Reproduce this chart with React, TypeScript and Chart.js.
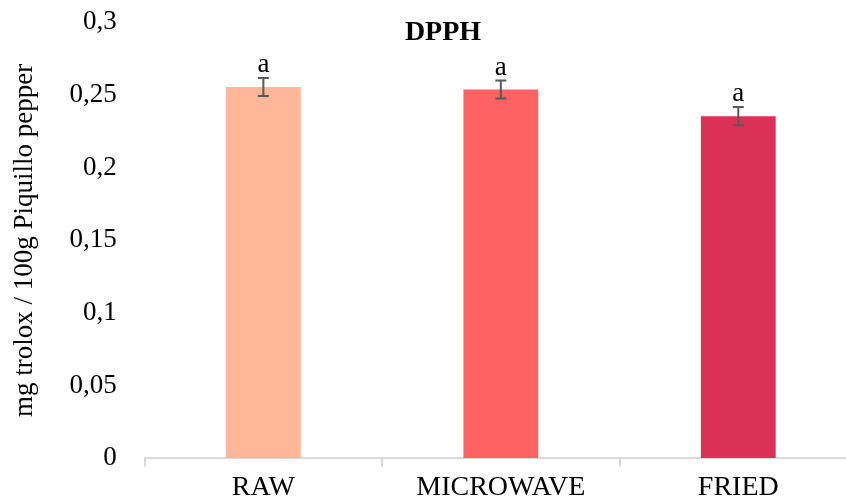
import React, { useEffect, useRef } from "react";
import { Chart, registerables } from "chart.js";

Chart.register(...registerables);

const categories = ["RAW", "MICROWAVE", "FRIED"];
const values = [0.2555, 0.2537, 0.2354];
const errors = [0.0062, 0.0062, 0.0063];
const letters = ["a", "a", "a"];
const barColors = ["#FFB699", "#FF6262", "#DC3157"];
const yTitle = "mg trolox / 100g Piquillo pepper";
const chartTitle = "DPPH";

const FONT = "'Liberation Serif', 'Times New Roman', serif";

const errorPlugin = {
  id: "errorBars",
  afterDatasetsDraw(chart: any) {
    const ctx = chart.ctx;
    const meta = chart.getDatasetMeta(0);
    const y = chart.scales.y;
    ctx.save();
    meta.data.forEach((bar: any, i: number) => {
      const x = bar.x;
      const top = y.getPixelForValue(values[i] + errors[i]);
      const bot = y.getPixelForValue(values[i] - errors[i]);
      ctx.strokeStyle = "#595959";
      ctx.lineWidth = 2;
      ctx.beginPath();
      ctx.moveTo(x, top);
      ctx.lineTo(x, bot);
      ctx.moveTo(x - 5.5, top);
      ctx.lineTo(x + 5.5, top);
      ctx.moveTo(x - 5.5, bot);
      ctx.lineTo(x + 5.5, bot);
      ctx.stroke();
      ctx.fillStyle = "#000";
      ctx.font = `27px ${FONT}`;
      ctx.textAlign = "center";
      ctx.textBaseline = "alphabetic";
      ctx.fillText(letters[i], x, top - 6);
    });
    ctx.font = `bold 28px ${FONT}`;
    ctx.textAlign = "center";
    ctx.textBaseline = "middle";
    ctx.fillStyle = "#000";
    ctx.fillText(chartTitle, 443, 33);
    ctx.restore();
  },
};

export default function App() {
  const ref = useRef<HTMLCanvasElement | null>(null);
  useEffect(() => {
    document.body.style.margin = "0";
    if (!ref.current) return;
    const chart = new Chart(ref.current, {
      type: "bar",
      data: {
        labels: categories,
        datasets: [
          {
            data: values,
            backgroundColor: barColors,
            categoryPercentage: 1,
            barPercentage: 0.315,
          },
        ],
      },
      options: {
        animation: false,
        responsive: false,
        maintainAspectRatio: false,
        layout: { padding: { top: 0, right: 3, left: 9, bottom: -8 } },
        plugins: { legend: { display: false }, tooltip: { enabled: false }, title: { display: false } },
        scales: {
          x: {
            grid: {
              offset: true,
              drawOnChartArea: false,
              drawTicks: true,
              tickLength: 8,
              color: "#D9D9D9",
              lineWidth: 2,
            },
            border: { color: "#D9D9D9", width: 2 },
            ticks: { color: "#000", font: { family: FONT, size: 28 }, padding: 4 },
          },
          y: {
            min: 0,
            max: 0.3,
            grid: {
              display: true,
              drawOnChartArea: false,
              drawTicks: true,
              tickLength: 22,
              color: "rgba(0,0,0,0)",
            },
            border: { display: false },
            ticks: {
              stepSize: 0.05,
              color: "#000",
              padding: 6,
              font: { family: FONT, size: 27 },
              callback: (v: any) => Number(Number(v).toFixed(2)).toString().replace(".", ","),
            },
            title: {
              display: true,
              text: yTitle,
              color: "#000",
              font: { family: FONT, size: 27 },
              padding: { top: 0, bottom: 22 },
            },
          },
        },
      },
      plugins: [errorPlugin],
    });
    return () => chart.destroy();
  }, []);
  return (
    <div style={{ width: 846, height: 500, overflow: "hidden" }}>
      <canvas ref={ref} width={860} height={500} style={{ width: 860, height: 500, display: "block" }} />
    </div>
  );
}
